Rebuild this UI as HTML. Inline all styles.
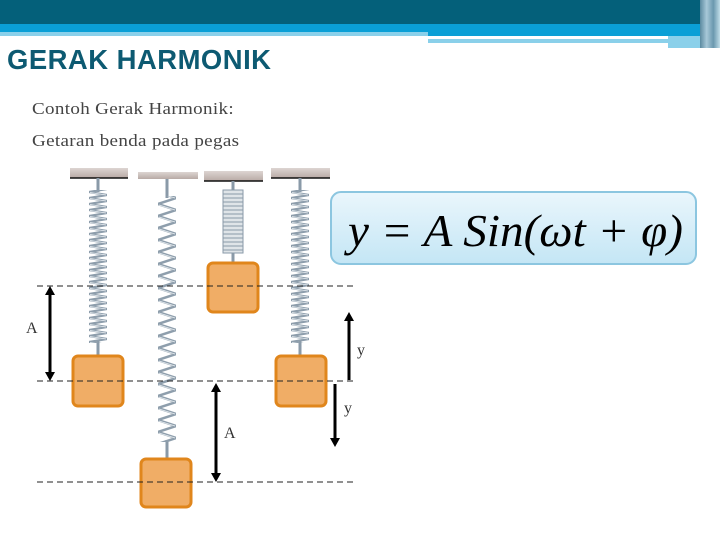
<!DOCTYPE html>
<html><head><style>
body{margin:0;width:720px;height:540px;background:#fff;position:relative;overflow:hidden;font-family:"Liberation Sans",sans-serif}
.a{position:absolute;white-space:nowrap}
</style></head><body>
<div class="a" style="left:0;top:0;width:720px;height:24px;background:#04607a"></div>
<div class="a" style="left:0;top:24px;width:720px;height:8px;background:#0a9fd6"></div>
<div class="a" style="left:0;top:32px;width:428px;height:4px;background:#8ad0ea"></div>
<div class="a" style="left:428px;top:32px;width:292px;height:4px;background:#0a9fd6"></div>
<div class="a" style="left:428px;top:36px;width:240px;height:3px;background:#fff"></div>
<div class="a" style="left:428px;top:39px;width:240px;height:4px;background:#8ad0ea"></div>
<div class="a" style="left:580px;top:43px;width:88px;height:4px;background:#fff"></div>
<div class="a" style="left:668px;top:36px;width:52px;height:12px;background:#8ad0ea"></div>
<div class="a" style="left:700px;top:0;width:20px;height:48px;background:linear-gradient(90deg,#5a8aa0,#a8c8d8,#6a98ae,#c0dde8)"></div>
<div class="a" style="left:7px;top:44px;font-size:28px;font-weight:bold;color:#0d5a72;letter-spacing:0.5px;transform:scaleX(0.98);transform-origin:left">GERAK HARMONIK</div>
<div class="a" style="left:32px;top:99px;font-family:'Liberation Serif',serif;font-size:17px;color:#444;letter-spacing:0.3px;transform:scaleX(1.12);transform-origin:left">Contoh Gerak Harmonik:</div>
<div class="a" style="left:32px;top:131px;font-family:'Liberation Serif',serif;font-size:17px;color:#444;letter-spacing:0.3px;transform:scaleX(1.12);transform-origin:left">Getaran benda pada pegas</div>
<svg class="a" style="left:0;top:0" width="720" height="540">
<defs><linearGradient id="g" x1="0" y1="0" x2="0" y2="1"><stop offset="0" stop-color="#eaf6fc"/><stop offset="1" stop-color="#c4e6f5"/></linearGradient>
<linearGradient id="cg" x1="0" y1="0" x2="0" y2="1"><stop offset="0" stop-color="#ddd5d2"/><stop offset="1" stop-color="#b8aaa5"/></linearGradient>
<pattern id="p1" patternUnits="userSpaceOnUse" x="89" y="0" width="18" height="6"><path d="M0,0L18,3L0,6" fill="none" stroke="#8e9eac" stroke-width="2.2"/><path d="M1,0.5L17,3" stroke="#e8eef2" stroke-width="0.8"/></pattern>
<pattern id="p4" patternUnits="userSpaceOnUse" x="291" y="0" width="18" height="6"><path d="M0,0L18,3L0,6" fill="none" stroke="#8e9eac" stroke-width="2.2"/><path d="M1,0.5L17,3" stroke="#e8eef2" stroke-width="0.8"/></pattern>
<pattern id="p2" patternUnits="userSpaceOnUse" x="158" y="0" width="18" height="12"><path d="M0,0L18,6L0,12" fill="none" stroke="#8e9eac" stroke-width="2.5"/><path d="M1,1L17,6" stroke="#e8eef2" stroke-width="0.8"/></pattern>
</defs>
<g fill="url(#cg)">
<rect x="70" y="168" width="58" height="10"/><rect x="138" y="172" width="60" height="7"/><rect x="204" y="171" width="59" height="10"/><rect x="271" y="168" width="59" height="10"/></g>
<g stroke="#111" stroke-width="1.5"><path d="M70,178H128M204,181H263M271,178H330"/></g>
<g fill="none" stroke="#8a9aa8" stroke-width="3">
<path d="M98,178V192M98,340V356M167,179V198M167,440V458M233,181V190M233,253V262M300,178V192M300,340V356"/>
</g>
<rect x="89" y="190" width="18" height="153" fill="url(#p1)"/>
<rect x="291" y="190" width="18" height="153" fill="url(#p4)"/>
<rect x="158" y="196" width="18" height="246" fill="url(#p2)"/>
<rect x="223" y="190" width="20" height="63" fill="#dfe4e8" stroke="#8a9aa8"/>
<path d="M223,194H243M223,198H243M223,202H243M223,206H243M223,210H243M223,214H243M223,218H243M223,222H243M223,226H243M223,230H243M223,234H243M223,238H243M223,242H243M223,246H243M223,250H243" stroke="#8a9aa8"/>
<g fill="#f0ad66" stroke="#e0861c" stroke-width="3">
<rect x="73" y="356" width="50" height="50" rx="5"/><rect x="141" y="459" width="50" height="48" rx="5"/><rect x="208" y="263" width="50" height="49" rx="5"/><rect x="276" y="356" width="50" height="50" rx="5"/></g>
<g stroke="#222" stroke-dasharray="6 4" stroke-width="1"><path d="M37,286H355M37,381H355M37,482H355"/></g>
<g stroke="#000" stroke-width="3"><path d="M50,292V376M216,390V477M335,384V441M349,380V318"/></g>
<g fill="#000">
<path d="M45,295L50,286L55,295zM45,372L50,381L55,372z"/>
<path d="M211,392L216,383L221,392zM211,473L216,482L221,473z"/>
<path d="M330,438L335,447L340,438z"/>
<path d="M344,321L349,312L354,321z"/>
</g>
<g font-family="Liberation Serif" font-size="16" fill="#333"><text x="26" y="333">A</text><text x="224" y="438">A</text><text x="357" y="355">y</text><text x="344" y="413">y</text></g>
<rect x="331" y="192" width="365" height="72" rx="10" fill="url(#g)" stroke="#8cc6e0" stroke-width="2"/>
<text x="348" y="246" font-family="Liberation Serif" font-size="46" font-style="italic" fill="#000" textLength="335" lengthAdjust="spacingAndGlyphs">y = A Sin(ωt + φ)</text>
</svg>
</body></html>
